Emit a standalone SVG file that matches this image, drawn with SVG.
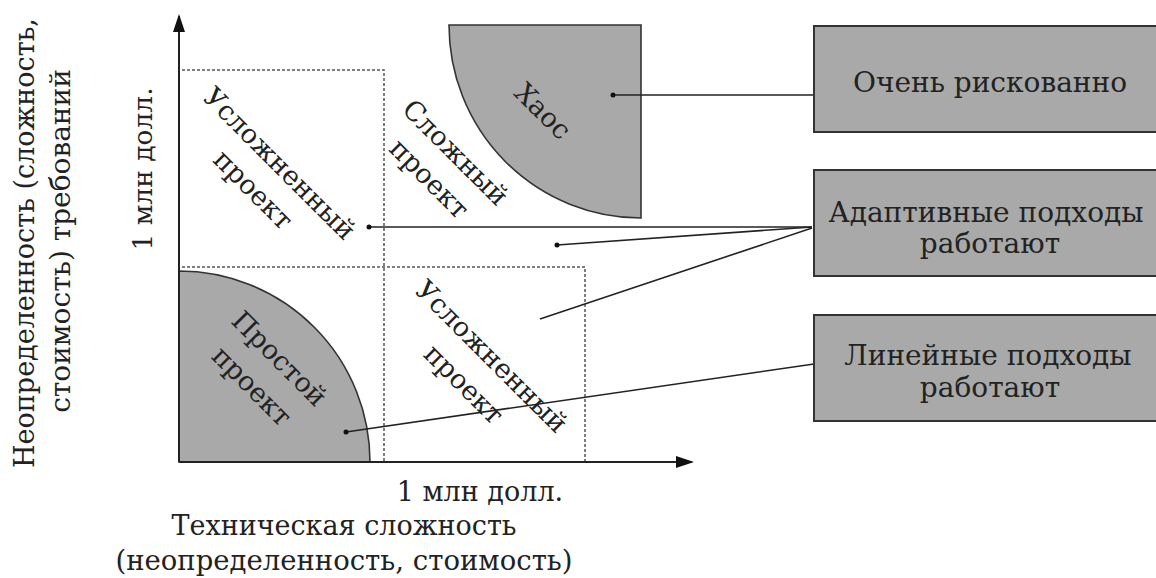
<svg xmlns="http://www.w3.org/2000/svg" width="1156" height="578" viewBox="0 0 1156 578">
  <style>
    .t { font-family: "DejaVu Serif", "Liberation Serif", serif; fill: #222; }
    .box { fill: #a9a9a9; stroke: #333; stroke-width: 2; }
    .zone { fill: #a9a9a9; stroke: #333; stroke-width: 1.6; }
    .dash { fill: none; stroke: #555; stroke-width: 1.5; stroke-dasharray: 3 2; }
    .axis { fill: none; stroke: #222; stroke-width: 2; }
    .link { fill: none; stroke: #222; stroke-width: 1.6; }
    .dot { fill: #111; }
  </style>
  <defs>
    <marker id="arrow" viewBox="0 0 18 12" refX="16" refY="6" markerWidth="18" markerHeight="12" markerUnits="userSpaceOnUse" orient="auto">
      <path d="M0,0 L18,6 L0,12 z" fill="#111"/>
    </marker>
  </defs>
  <rect width="1156" height="578" fill="#fff"/>

  <!-- shaded zones -->
  <g id="zone-simple">
    <path class="zone" d="M179,271 A191,191 0 0 1 370,462 L179,462 z"/>
  </g>
  <g id="zone-chaos">
    <path class="zone" d="M449,25 L641,25 L641,218 A192,193 0 0 1 449,25 z"/>
  </g>

  <!-- dashed quadrant borders -->
  <g id="quadrants">
    <path class="dash" d="M182,70 H384 V462"/>
    <path class="dash" d="M182,267 H585 V462"/>
  </g>

  <!-- axes -->
  <g id="axes">
    <path class="axis" d="M179,462 V16" marker-end="url(#arrow)"/>
    <path class="axis" d="M179,462 H692" marker-end="url(#arrow)"/>
  </g>

  <!-- region labels -->
  <g id="label-complicated-top" class="t" font-size="27" text-anchor="middle" dominant-baseline="central">
    <text transform="translate(280,163) rotate(45)"><tspan x="0" y="0">Усложненный</tspan><tspan x="0" y="37">проект</tspan></text>
  </g>
  <g id="label-complex" class="t" font-size="27" text-anchor="middle" dominant-baseline="central">
    <text transform="translate(456,152) rotate(45)"><tspan x="0" y="0">Сложный</tspan><tspan x="0" y="37">проект</tspan></text>
  </g>
  <g id="label-chaos" class="t" font-size="27" text-anchor="middle" dominant-baseline="central">
    <text transform="translate(543,111) rotate(45)">Хаос</text>
  </g>
  <g id="label-simple" class="t" font-size="27" text-anchor="middle" dominant-baseline="central">
    <text transform="translate(280,358) rotate(45)"><tspan x="0" y="0">Простой</tspan><tspan x="0" y="39">проект</tspan></text>
  </g>
  <g id="label-complicated-bottom" class="t" font-size="27" text-anchor="middle" dominant-baseline="central">
    <text transform="translate(492,356) rotate(45)"><tspan x="0" y="0">Усложненный</tspan><tspan x="0" y="39">проект</tspan></text>
  </g>

  <!-- connectors -->
  <g id="connectors">
    <path class="link" d="M613,95 H814"/>
    <path class="link" d="M369,227 L812,227"/>
    <path class="link" d="M557,245 L812,227"/>
    <path class="link" d="M540,319 L812,228"/>
    <path class="link" d="M346,432 L814,364"/>
    <circle class="dot" cx="613" cy="95" r="2.5"/>
    <circle class="dot" cx="369" cy="227" r="2.5"/>
    <circle class="dot" cx="557" cy="245" r="2.5"/>
    <circle class="dot" cx="346" cy="432" r="2.5"/>
  </g>

  <!-- outcome boxes -->
  <g id="box-risky">
    <rect class="box" x="814" y="26" width="360" height="106"/>
    <text class="t" x="990" y="92" font-size="28" text-anchor="middle">Очень рискованно</text>
  </g>
  <g id="box-adaptive">
    <rect class="box" x="814" y="170" width="360" height="106"/>
    <text class="t" x="986" y="222" font-size="28" text-anchor="middle">Адаптивные подходы</text>
    <text class="t" x="990" y="253" font-size="28" text-anchor="middle">работают</text>
  </g>
  <g id="box-linear">
    <rect class="box" x="814" y="315" width="360" height="106"/>
    <text class="t" x="988" y="365" font-size="28" text-anchor="middle">Линейные подходы</text>
    <text class="t" x="990" y="397" font-size="28" text-anchor="middle">работают</text>
  </g>

  <!-- axis captions -->
  <g id="x-caption" class="t" font-size="27" text-anchor="middle">
    <text x="480" y="501">1 млн долл.</text>
    <text x="344" y="535">Техническая сложность</text>
    <text x="344" y="570" font-size="27.5">(неопределенность, стоимость)</text>
  </g>
  <g id="y-caption" class="t" text-anchor="middle" dominant-baseline="central">
    <text transform="translate(24,243) rotate(-90)" font-size="27">Неопределенность (сложность,</text>
    <text transform="translate(60,241) rotate(-90)" font-size="28">стоимость) требований</text>
    <text transform="translate(142,169) rotate(-90)" font-size="26.5">1 млн долл.</text>
  </g>
</svg>
